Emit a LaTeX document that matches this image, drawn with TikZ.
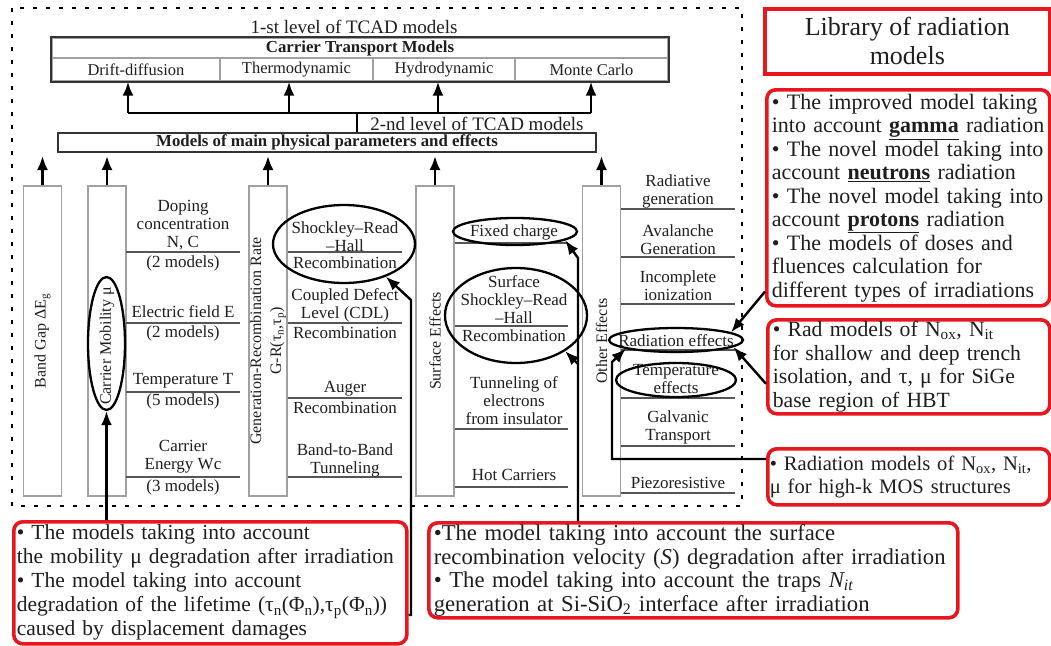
\documentclass[tikz,border=0pt]{standalone}
\usepackage{fontspec}
\setmainfont{Liberation Serif}
\usetikzlibrary{arrows.meta,shapes.geometric,calc}
\definecolor{rred}{HTML}{E8161E}
\definecolor{txt}{HTML}{1E1E1E}
\definecolor{colg}{HTML}{A0A0A0}
\definecolor{sepg}{HTML}{555555}
\definecolor{dark}{HTML}{333333}
\begin{document}
\begin{tikzpicture}[x=1pt,y=-1pt,text=txt,
  every node/.style={inner sep=0pt},
  colbox/.style={draw=colg,line width=1.5pt,minimum width=38pt,minimum height=310pt},
  rot/.style={rotate=90,font=\fontsize{16}{20}\selectfont,align=center},
  sm/.style={font=\fontsize{17}{18}\selectfont,align=center},
  sepl/.style={draw=sepg,line width=1.6pt},
  ell/.style={ellipse,draw=black,line width=2.3pt,inner sep=0pt},
  arr/.style={line width=2.4pt,-{Latex[length=14pt,width=11pt]}},
  plain/.style={line width=2.4pt},
  cell/.style={draw=colg,line width=1.4pt,font=\fontsize{16.5}{18}\selectfont},
  redbox/.style={draw=rred,line width=3.6pt,rounded corners=9pt,align=left,
    font=\fontsize{22}{23.5}\selectfont,inner xsep=5pt,anchor=north west},
  lev/.style={font=\fontsize{19}{20}\selectfont}
]
\useasboundingbox (0,0) rectangle (1051,645);

% dashed frame
\draw[line width=2.6pt,dash pattern=on 4pt off 9pt] (12,8) rectangle (742,506);

% level 1
\node[lev] (lev1) at (354,27) {1-st level of TCAD models};
\node[cell,minimum width=616pt,minimum height=20pt,font=\fontsize{16.8}{18}\selectfont\bfseries] (ctm) at (360,48) {Carrier Transport Models};
\node[cell,minimum width=168pt,minimum height=23pt] (dd) at (136,69.5) {Drift-diffusion};
\node[cell,minimum width=153pt,minimum height=23pt] (th) at (296.5,69.5) {Thermodynamic};
\node[cell,minimum width=142pt,minimum height=23pt] (hy) at (444,69.5) {Hydrodynamic};
\node[cell,minimum width=153pt,minimum height=23pt] (mc) at (591.5,69.5) {Monte Carlo};
\draw[dark,line width=2pt] (ctm.north west) rectangle (mc.south east);

% level 2
\node[lev] (lev2) at (477,124) {2-nd level of TCAD models};
\node[draw=dark,line width=2pt,minimum width=538pt,minimum height=19pt,font=\fontsize{16.8}{17}\selectfont\bfseries] (params) at (327,142.5) {Models of main physical parameters and effects};

\coordinate (hub) at (357,113);
\coordinate (h1) at (128,113);
\coordinate (h2) at (289,113);
\coordinate (h3) at (438,113);
\coordinate (h4) at (591,113);
\draw[plain] (params.north -| hub) -- (hub);
\draw[plain] (h1) -- (h4);
\draw[arr] (h1) -- (h1 |- dd.south);
\draw[arr] (h2) -- (h2 |- th.south);
\draw[arr] (h3) -- (h3 |- hy.south);
\draw[arr] (h4) -- (h4 |- mc.south);

% columns
\node[colbox] (bg) at (42.5,341) {};
\node[rot] (bgt) at (bg) {Band Gap ΔE\textsubscript{g}};
\node[colbox] (mob) at (107,341) {};
\node[rot] (mobt) at (107,346) {Carrier Mobility μ};
\node[colbox] (gr) at (268,341) {};
\node[rot] (grt) at (gr) {Generation-Recombination Rate\\G-R(τ\textsubscript{n},τ\textsubscript{p})};
\node[colbox] (surf) at (435,341) {};
\node[rot] (surft) at (surf) {Surface Effects};
\node[colbox] (oth) at (601.5,341) {};
\node[rot] (otht) at (oth) {Other Effects};

\foreach \c in {bg,mob,gr,surf,oth}
  \draw[arr] (\c.north) -- ($(\c.north |- params.south)+(0,3)$);

% mobility sub-models
\foreach \yy in {252,323,392,477} \draw[sepl] (126,\yy) -- (240,\yy);
\node[sm] (dop) at (183,225) {Doping\\concentration\\N, C};
\node[sm] (dopm) at (183,263) {(2 models)};
\node[sm] (ef) at (183,312) {Electric field E};
\node[sm] (efm) at (183,333) {(2 models)};
\node[sm] (tt) at (183,381) {Temperature T};
\node[sm] (ttm) at (183,401) {(5 models)};
\node[sm] (ce) at (183,457) {Carrier\\Energy Wc};
\node[sm] (cem) at (183,487) {(3 models)};

% G-R sub-models
\foreach \yy in {252,323,398,477} \draw[sepl] (288,\yy) -- (402,\yy);
\node[sm] (srht) at (345,236.5) {Shockley–Read\\–Hall};
\node[sm] (srhr) at (345,263) {Recombination};
\node[sm] (cdl) at (345,305) {Coupled Defect\\Level (CDL)};
\node[sm] (cdlr) at (345,333) {Recombination};
\node[sm] (aug) at (345,389) {Auger};
\node[sm] (augr) at (345,408) {Recombination};
\node[sm] (btb) at (345,460.5) {Band-to-Band\\Tunneling};

% surface sub-models
\foreach \yy in {243,326,429,487} \draw[sepl] (455,\yy) -- (568,\yy);
\node[sm] (fct) at (514,232) {Fixed charge};
\node[sm] (ssrht) at (514,300) {Surface\\Shockley–Read\\–Hall};
\node[sm] (ssrhr) at (514,336) {Recombination};
\node[sm] (tun) at (514,400.5) {Tunneling of\\electrons\\from insulator};
\node[sm] (hc) at (514,475) {Hot Carriers};

% other effects
\foreach \yy in {209,257,304,350,398,446,493} \draw[sepl] (621,\yy) -- (735,\yy);
\node[sm] (radg) at (678,191) {Radiative\\generation};
\node[sm] (aval) at (678,240) {Avalanche\\Generation};
\node[sm] (inc) at (678,286) {Incomplete\\ionization};
\node[sm] (rade) at (676,341) {Radiation effects};
\node[sm] (tmpe) at (676,379.5) {Temperature\\effects};
\node[sm] (galv) at (678,427) {Galvanic\\Transport};
\node[sm] (piez) at (678,483) {Piezoresistive};

% ellipses
\node[ell,minimum width=37pt,minimum height=133pt] (mobE) at (106.5,343.5) {};
\node[ell,minimum width=142pt,minimum height=78pt] (srh) at (344,244) {};
\node[ell,minimum width=124pt,minimum height=27pt] (fc) at (515,231.5) {};
\node[ell,minimum width=142pt,minimum height=95pt] (ssrh) at (516,315.5) {};
\node[ell,minimum width=134pt,minimum height=24pt] (rad) at (676,340) {};
\node[ell,minimum width=120pt,minimum height=34pt] (tmp) at (676,380) {};

% library boxes
\node[draw=rred,line width=3.6pt,minimum width=285pt,minimum height=65pt,align=center,
  font=\fontsize{26}{29}\selectfont,anchor=north west] (lib1) at (763,7) {Library of radiation\\models};
\node[redbox,text width=273pt,minimum height=216pt] (lib2) at (765,88) {%
• The improved model taking\\
into account \underline{\textbf{gamma}} radiation\\
• The novel model taking into\\
account \underline{\textbf{neutrons}} radiation\\
• The novel model taking into\\
account \underline{\textbf{protons}} radiation\\
• The models of doses and\\
fluences calculation for\\
different types of irradiations};
\node[redbox,text width=272pt,minimum height=94pt,font=\fontsize{21.7}{23.5}\selectfont] (lib3) at (766,318) {%
• Rad models of N\textsubscript{ox}, N\textsubscript{it}\\
for shallow and deep trench\\
isolation, and τ, μ for SiGe\\
base region of HBT};
\node[redbox,text width=278pt,inner xsep=2pt,minimum height=56pt,font=\fontsize{20.6}{23.5}\selectfont] (lib4) at (766,447) {%
\mbox{• Radiation models of N\textsubscript{ox}, N\textsubscript{it},}\\
μ for high-k MOS structures};
\node[redbox,text width=387pt,inner xsep=3pt,minimum height=122pt,font=\fontsize{21.5}{24}\selectfont] (blb) at (12,520) {%
• The models taking into account\\
\mbox{the mobility μ degradation after irradiation}\\
• The model taking into account\\
\mbox{degradation of the lifetime (τ\textsubscript{n}(Φ\textsubscript{n}),τ\textsubscript{p}(Φ\textsubscript{n}))}\\
caused by displacement damages};
\node[redbox,text width=519pt,minimum height=95pt,font=\fontsize{22.7}{23.5}\selectfont] (bcb) at (427,521) {%
\mbox{•The model taking into account the surface}\\
\mbox{recombination velocity (\textit{S}) degradation after irradiation}\\
\mbox{• The model taking into account the traps \textit{N\textsubscript{it}}}\\
\mbox{generation at Si-SiO\textsubscript{2} interface after irradiation}};

% connectors
\draw[arr] (mobE.south |- blb.north) -- (mobE.south);
\coordinate (lt1) at (411,615);
\coordinate (lt2) at (411,300);
\draw[arr] (blb.east |- lt1) -- (lt1) -- (lt2) -- (srh.-38);
\coordinate (s1) at (578,258);
\coordinate (s2) at (578,364);
\draw[arr] (bcb.north -| s1) -- (s1) -- (fc.-10);
\draw[arr] (s2) -- (ssrh.-36);
\draw[arr] ($(lib2.south west)+(0,-16)$) -- (rad.8);
\draw[arr] ($(lib3.west)+(0,17)$) -- (rad.-7);
\coordinate (b4) at (612,459);
\coordinate (b5) at (612,362);
\draw[arr] (lib4.west |- b4) -- (b4) -- (b5) -- (rad.190);
\end{tikzpicture}
\end{document}
